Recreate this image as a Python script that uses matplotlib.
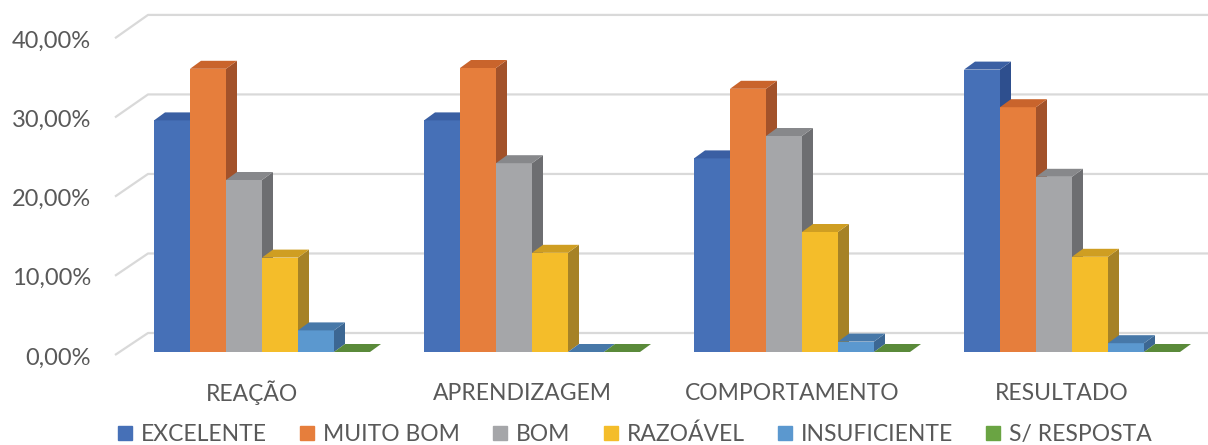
import matplotlib.pyplot as plt
from matplotlib.patches import Polygon
from matplotlib.lines import Line2D

# dados (percentual por nível de avaliação)
categorias = ['REAÇÃO', 'APRENDIZAGEM', 'COMPORTAMENTO', 'RESULTADO']
series = ['EXCELENTE', 'MUITO BOM', 'BOM', 'RAZOÁVEL', 'INSUFICIENTE', 'S/ RESPOSTA']
excelente = [28.95, 28.95, 24.2, 35.3]
muito_bom = [35.4, 35.5, 32.9, 30.6]
bom = [21.5, 23.6, 27.0, 21.9]
razoavel = [11.8, 12.4, 15.0, 11.9]
insuficiente = [2.7, 0.0, 1.3, 1.1]
sem_resposta = [0.0, 0.0, 0.0, 0.0]
yticks = [0, 10, 20, 30, 40]
ytick_labels = ['0,00%', '10,00%', '20,00%', '30,00%', '40,00%']

valores = [excelente, muito_bom, bom, razoavel, insuficiente, sem_resposta]

# frente, topo, lateral
cores = [
    ('#4670B7', '#3A5FA3', '#2E4F8E'),
    ('#E67E3C', '#C9642C', '#A2522A'),
    ('#A5A6A9', '#87888B', '#6D6E71'),
    ('#F4BD2A', '#CF9E22', '#A68226'),
    ('#5B98CF', '#4778A8', '#3C6793'),
    ('#6AA443', '#5A8A3A', '#4A7230'),
]

W, H = 1208, 445
PX_CAT = 270.0   # pixels por categoria
PX_PCT = 8.0     # pixels por ponto percentual
X0_PX, Y0_PX = 262.0, 352.0

fig = plt.figure(figsize=(W / 100, H / 100), dpi=100)
ax = fig.add_axes([0, 0, 1, 1])
ax.set_xlim(-X0_PX / PX_CAT, (W - X0_PX) / PX_CAT)
ax.set_ylim((Y0_PX - H) / PX_PCT, Y0_PX / PX_PCT)
ax.axis('off')

plt.rcParams['font.family'] = ['Lato', 'DejaVu Sans']
txt = '#595959'

# profundidade da barra e da parede
bw = 0.8 / len(series)
ddx, ddy = 11 / PX_CAT, 8 / PX_PCT
x_front, x_back = (115 - X0_PX) / PX_CAT, (148 - X0_PX) / PX_CAT
off_front, off_back = -3 / PX_PCT, 19 / PX_PCT

# linhas de grade (frente inclinada + fundo horizontal)
for t, lab in zip(yticks, ytick_labels):
    yf = t * 0.99 + off_front
    yb = t * 0.994 + off_back
    ax.plot([x_front, x_back, ax.get_xlim()[1]], [yf, yb, yb],
            color='#D9D9D9', lw=1.6, zorder=1, solid_capstyle='butt')
    ax.text((91 - X0_PX) / PX_CAT, yf - 3 / PX_PCT, lab, ha='right', va='center',
            fontsize=17, color=txt)

# barras em pseudo-3D
for i, cat in enumerate(categorias):
    for j, serie in enumerate(series):
        v = valores[j][i]
        x0 = i - 0.4 + j * bw
        x1 = x0 + bw
        front, top, side = cores[j]
        ax.add_patch(Polygon([(x1, 0), (x1 + ddx, ddy), (x1 + ddx, v + ddy), (x1, v)],
                             closed=True, fc=side, ec='none', zorder=2))
        ax.add_patch(Polygon([(x0, 0), (x1, 0), (x1, v), (x0, v)],
                             closed=True, fc=front, ec='none', zorder=2))
        ax.add_patch(Polygon([(x0, v), (x1, v), (x1 + ddx, v + ddy), (x0 + ddx, v + ddy)],
                             closed=True, fc=top, ec='none', zorder=2))
    ax.text(i - 10 / PX_CAT, -41 / PX_PCT, cat, ha='center', va='center',
            fontsize=16.5, color=txt)

handles = [Line2D([], [], marker='s', ls='', markersize=10.5, color=c[0]) for c in cores]
ax.legend(handles, series, loc='center', bbox_to_anchor=(635 / W, 1 - 434 / H),
          ncol=6, frameon=False, fontsize=16.5, handlelength=0.6, handletextpad=0.4,
          columnspacing=1.45, labelcolor=txt, borderpad=0)

fig.savefig('out.png', dpi=100)
